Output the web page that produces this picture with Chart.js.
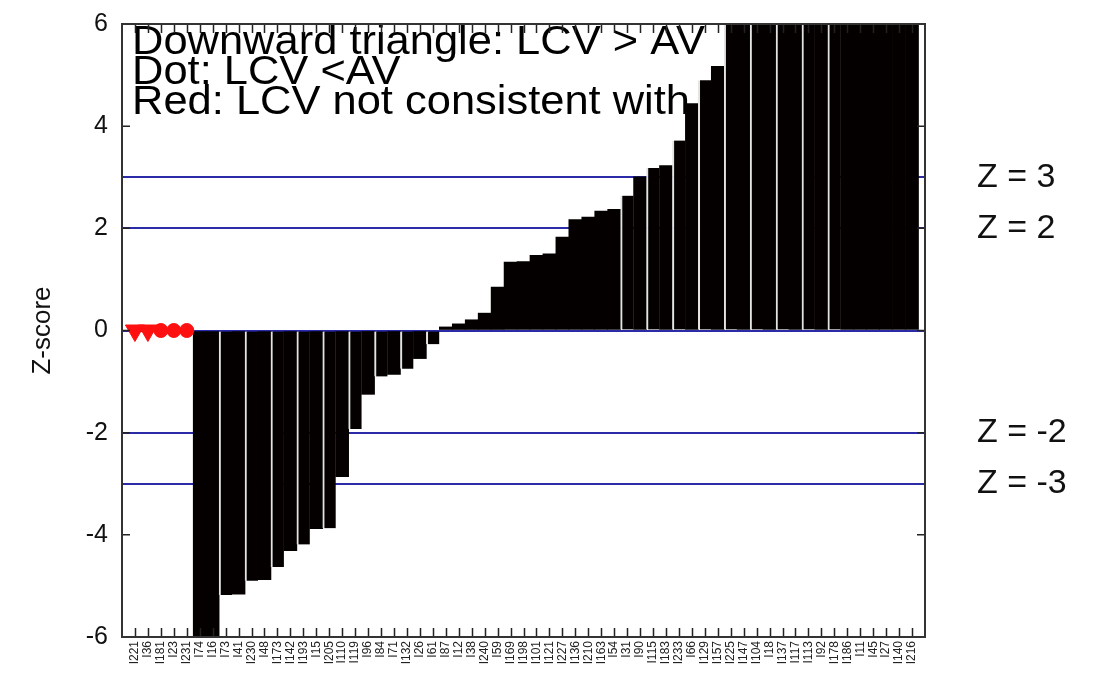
<!DOCTYPE html>
<html>
<head>
<meta charset="utf-8">
<script src="https://cdn.jsdelivr.net/npm/chart.js@4.4.1/dist/chart.umd.min.js"></script>
<style>
html,body{margin:0;padding:0;background:#fff;}
canvas{display:block;}
</style>
</head>
<body>
<canvas id="c" width="1098" height="675"></canvas>
<script>
// ---------- data ----------
const categories = [
  'I221','I36','I181','I23','I231','I74','I16','I73','I41','I230',
  'I48','I173','I142','I193','I15','I205','I110','I119','I96','I84',
  'I71','I132','I26','I61','I87','I12','I38','I240','I59','I169',
  'I198','I101','I121','I227','I136','I210','I163','I54','I31','I90',
  'I115','I183','I233','I66','I129','I157','I225','I147','I104','I18',
  'I137','I117','I113','I92','I178','I186','I11','I45','I27','I140','I216'
];
// bar z-scores (first five items are only shown as red markers)
const zScores = [
  null, null, null, null, null,
  -6.8, -6.2, -5.18, -5.16, -4.90, -4.88, -4.63, -4.31, -4.19, -3.88,
  -3.87, -2.86, -1.93, -1.25, -0.90, -0.86, -0.75, -0.55, -0.27, 0.07,
  0.13, 0.21, 0.34, 0.85, 1.34, 1.35, 1.47, 1.50, 1.83, 2.17,
  2.22, 2.34, 2.37, 2.64, 3.01, 3.18, 3.23, 3.72, 4.44, 4.90,
  5.17, 6.4, 6.7, 7.0, 7.3, 7.6, 8.0, 8.4, 8.9, 9.3,
  9.8, 10.4, 11.1, 12.0, 13.2, 14.5
];
const flaggedValues = [0, 0, 0, 0, 0];
const flaggedShapes = ['triangle', 'triangle', 'circle', 'circle', 'circle'];
const yTicks = [-6, -4, -2, 0, 2, 4, 6];
const refLevels = [-3, -2, 0, 2, 3];
const sideLevels = [-3, -2, 2, 3];
const noteLines = ['Downward triangle: LCV > AV', 'Dot: LCV <AV', 'Red: LCV not consistent with'];

// ---------- helpers ----------
const FAMILY = '"Liberation Sans", Arial, Helvetica, sans-serif';
const labels = [''].concat(categories, ['']);
const barData = [null].concat(zScores, [null]);
const markerData = [null].concat(categories.map((c, i) => i < flaggedValues.length ? flaggedValues[i] : null), [null]);
function sepBefore(idx) {
  return (idx >= 8 && idx <= 24 && idx % 2 === 0) || (idx >= 39 && idx <= 55 && idx % 2 === 1);
}
function noVerticalPadding(s) { s.paddingTop = 0; s.paddingBottom = 0; }

const overlay = {
  id: 'overlay',
  beforeDatasetsDraw(chart) {
    const {ctx, chartArea: a} = chart;
    ctx.save();
    ctx.beginPath();
    ctx.rect(a.left, a.top, a.right - a.left, a.bottom - a.top);
    ctx.clip();
    ctx.fillStyle = '#000';
    ctx.font = '41px ' + FAMILY;
    ctx.textBaseline = 'alphabetic';
    noteLines.forEach((t, k) => {
      ctx.save();
      ctx.translate(a.left + 10, a.top + 30 + k * 30);
      ctx.scale(1.06, 1);
      ctx.fillText(t, 0, 0);
      ctx.restore();
    });
    ctx.restore();
  },
  afterDraw(chart) {
    const {ctx, chartArea: a, scales} = chart;
    ctx.save();
    ctx.strokeStyle = '#222';
    ctx.lineWidth = 1.5;
    ctx.beginPath();
    categories.forEach((c, i) => {
      const px = Math.round(scales.x.getPixelForValue(i + 1)) + 0.5;
      ctx.moveTo(px, a.bottom); ctx.lineTo(px, a.bottom - 9);
      ctx.moveTo(px, a.top); ctx.lineTo(px, a.top + 9);
    });
    yTicks.forEach(v => {
      const py = scales.y.getPixelForValue(v);
      ctx.moveTo(a.left, py); ctx.lineTo(a.left + 8, py);
      ctx.moveTo(a.right, py); ctx.lineTo(a.right - 8, py);
    });
    ctx.stroke();
    ctx.lineWidth = 2;
    ctx.strokeStyle = '#333';
    ctx.strokeRect(a.left, a.top, a.right - a.left, a.bottom - a.top);
    ctx.restore();
  }
};

new Chart(document.getElementById('c'), {
  data: {
    labels: labels,
    datasets: [
      {
        type: 'line',
        data: markerData,
        showLine: false,
        pointStyle: c => flaggedShapes[c.dataIndex - 1] || 'circle',
        rotation: c => flaggedShapes[c.dataIndex - 1] === 'triangle' ? 180 : 0,
        pointRadius: c => flaggedShapes[c.dataIndex - 1] === 'triangle' ? 11 : 7,
        backgroundColor: '#ff1010',
        borderColor: '#ff1010',
        borderWidth: 1
      },
      {
        type: 'bar',
        data: barData,
        backgroundColor: '#050000',
        borderColor: '#e4e4e4',
        borderWidth: c => sepBefore(c.dataIndex) ? {left: 2} : 0,
        borderSkipped: false,
        barPercentage: 1,
        categoryPercentage: 1
      }
    ]
  },
  options: {
    responsive: false,
    animation: false,
    devicePixelRatio: 1,
    layout: {padding: {top: 24, left: 0, right: 0, bottom: 0}},
    plugins: {legend: {display: false}, tooltip: {enabled: false}},
    scales: {
      x: {
        type: 'category',
        offset: false,
        border: {display: false},
        grid: {display: false, drawTicks: false},
        ticks: {autoSkip: false, minRotation: 90, maxRotation: 90, padding: 4,
                font: {size: 12, family: FAMILY}, color: '#222'},
        afterFit: s => { s.height = 38; }
      },
      y: {
        position: 'left',
        min: -6, max: 6,
        z: 2,
        afterBuildTicks: s => {
          s.ticks = yTicks.concat([-3, 3]).sort((p, q) => p - q).map(v => ({value: v}));
        },
        grid: {
          drawTicks: false,
          lineWidth: 2,
          color: c => (c.tick && refLevels.includes(c.tick.value)) ? '#2b2ba8' : 'rgba(0,0,0,0)'
        },
        border: {display: false},
        ticks: {padding: 14, font: {size: 25, family: FAMILY}, color: '#111',
                callback: v => yTicks.includes(v) ? String(v) : ''},
        title: {display: true, text: 'Z-score', font: {size: 26, family: FAMILY}, color: '#111',
                padding: {top: 27, bottom: 0}},
        afterFit: s => { s.width = 122; noVerticalPadding(s); }
      },
      yR: {
        position: 'right',
        display: true,
        min: -6, max: 6,
        afterBuildTicks: s => { s.ticks = sideLevels.map(v => ({value: v})); },
        grid: {display: false, drawTicks: false},
        border: {display: false},
        ticks: {padding: 52, font: {size: 34, family: FAMILY}, color: '#111',
                callback: v => 'Z = ' + v},
        afterFit: s => { s.width = 173; noVerticalPadding(s); }
      }
    }
  },
  plugins: [overlay]
});
</script>
</body>
</html>
